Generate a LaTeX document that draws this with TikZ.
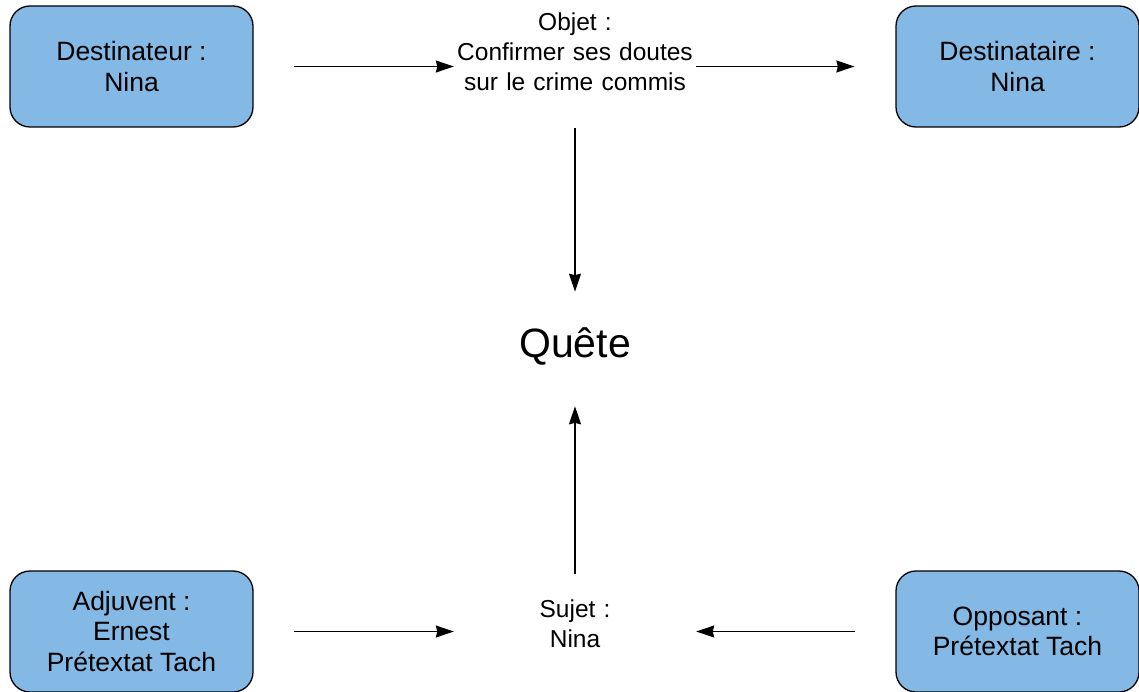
\documentclass[tikz,border=0pt]{standalone}
\usepackage{fontspec}
\setmainfont{Liberation Sans}
\usetikzlibrary{arrows.meta}
\definecolor{boxblue}{RGB}{131,185,228}

\begin{document}
\begin{tikzpicture}[x=1pt,y=-1pt,
    actant/.style={shape=rectangle, rounded corners=20pt, draw=black, line width=1.3pt, fill=boxblue,
        minimum width=243pt, minimum height=121pt, align=center, font=\fontsize{26.5}{30.5}\selectfont},
    centre/.style={align=center, text width=236pt, inner sep=3pt, font=\fontsize{24.5}{30}\selectfont},
    fleche/.style={-{Stealth[length=18pt,width=12pt,inset=1.5pt]}, line width=1.4pt}]
    \useasboundingbox (0,0) rectangle (1139,692);

    \node[actant] (Dr) at (131.5,66.5) {Destinateur :\\Nina};
    \node[actant] (De) at (1017.5,66.5) {Destinataire :\\Nina};
    \node[actant] (Ad) at (131.5,631.5) {Adjuvent :\\Ernest\\Prétextat Tach};
    \node[actant] (Op) at (1017.5,631.5) {Opposant :\\Prétextat Tach};
    \node[centre] (O) at (575,52) {Objet :\\Confirmer ses doutes\\sur le crime commis};
    \node[centre] (S) at (575,624) {Sujet :\\Nina};
    \node[font=\fontsize{41}{45}\selectfont] (Q) at (575,346) {Quête};

    \path [fleche, shorten <=40pt](Dr.east) edge  (Dr -| O.west);
    \path [fleche, shorten >=41pt](De -| O.east) edge  (De.west);
    \path [fleche, shorten <=34pt, shorten >=32pt](O.south) edge  (Q.north);
    \path [fleche, shorten <=40pt](Ad.east) edge  (Ad -| S.west);
    \path [fleche, shorten <=40pt](Op.west) edge  (Op -| S.east);
    \path [fleche, shorten <=23pt, shorten >=38pt](S.north) edge  (Q.south);

\end{tikzpicture}
\end{document}
